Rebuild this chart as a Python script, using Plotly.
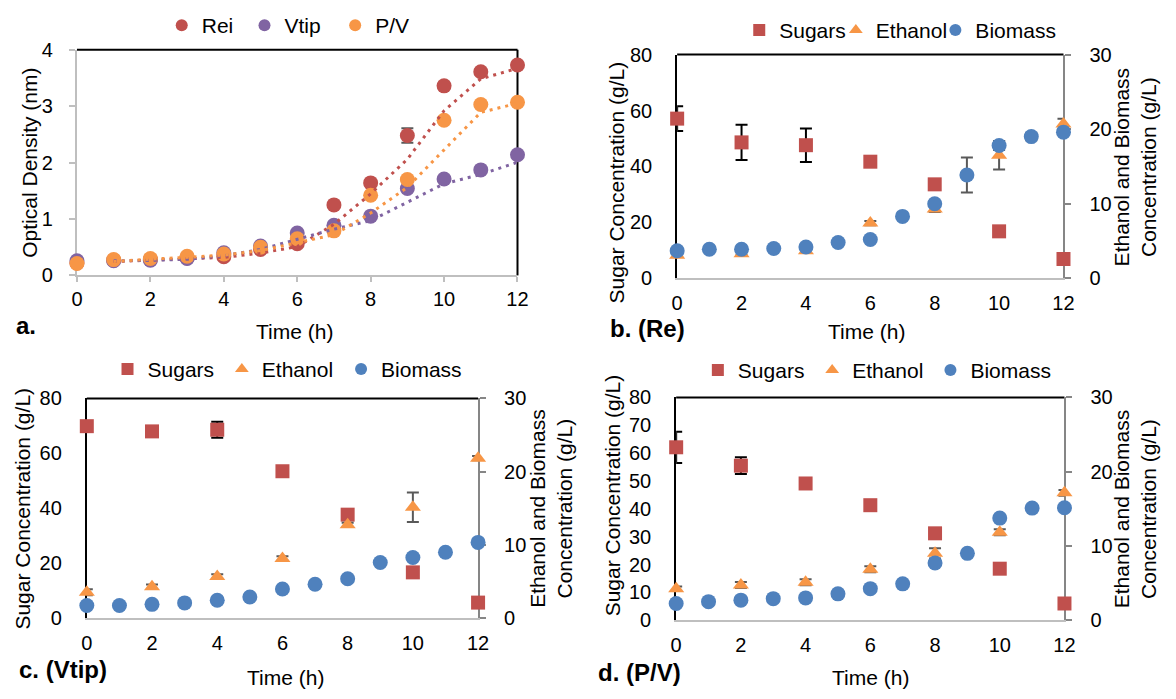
import plotly.graph_objects as go
import pandas as pd

# ---------------- data ----------------
hours = list(range(13))
hours_even = [0, 2, 4, 6, 8, 10, 12]
x_ticks = [0, 2, 4, 6, 8, 10, 12]

# panel a: optical density
od_rei = [0.22, 0.27, 0.28, 0.31, 0.33, 0.46, 0.56, 1.25, 1.64, 2.48, 3.36, 3.61, 3.73]
od_rei_err = [0.02, 0.02, 0.02, 0.02, 0.02, 0.02, 0.03, 0.04, 0.04, 0.13, 0.06, 0.05, 0.04]
od_vtip = [0.26, 0.26, 0.27, 0.30, 0.40, 0.52, 0.75, 0.89, 1.05, 1.54, 1.71, 1.87, 2.14]
od_vtip_err = [0.02, 0.02, 0.02, 0.02, 0.02, 0.02, 0.03, 0.03, 0.03, 0.05, 0.04, 0.04, 0.04]
od_pv = [0.21, 0.28, 0.30, 0.34, 0.38, 0.50, 0.65, 0.79, 1.42, 1.70, 2.75, 3.03, 3.07]
od_pv_err = [0.02, 0.02, 0.02, 0.02, 0.02, 0.02, 0.03, 0.03, 0.04, 0.04, 0.05, 0.04, 0.04]

# panel b: Re
b_sugars = [57.1, 48.6, 47.6, 41.7, 33.6, 16.8, 6.9]
b_sugars_err = [4.4, 6.3, 6.0, 0.8, 0.8, 0.6, 0.5]
b_ethanol = [3.1, 3.3, 3.7, 7.4, 9.3, 16.5, 20.7]
b_ethanol_err = [0.2, 0.2, 0.3, 0.3, 0.4, 1.9, 0.7]
b_biomass = [3.7, 3.9, 3.9, 4.0, 4.2, 4.8, 5.2, 8.3, 10.0, 13.85, 17.8, 19.0, 19.6]
b_biomass_err = [0.1, 0.1, 0.1, 0.1, 0.1, 0.1, 0.1, 0.2, 0.3, 2.35, 0.6, 0.5, 0.3]

# panel c: Vtip
c_sugars = [69.9, 68.0, 68.6, 53.5, 37.7, 16.7, 5.7]
c_sugars_err = [0.5, 0.5, 2.9, 0.5, 1.0, 0.5, 0.5]
c_ethanol = [3.55, 4.3, 5.7, 8.15, 12.75, 15.15, 21.85]
c_ethanol_err = [0.4, 0.3, 0.3, 0.3, 0.3, 2.0, 0.3]
c_biomass = [1.75, 1.75, 1.9, 2.1, 2.45, 2.9, 4.0, 4.65, 5.4, 7.6, 8.3, 9.0, 10.35]
c_biomass_err = [0.1] * 13

# panel d: P/V
d_sugars = [62.1, 55.5, 49.1, 41.3, 31.2, 18.5, 6.0]
d_sugars_err = [5.6, 3.0, 0.5, 0.5, 0.5, 0.5, 0.5]
d_ethanol = [4.25, 4.75, 5.1, 6.85, 9.0, 11.85, 17.15]
d_ethanol_err = [0.3, 0.4, 0.4, 0.4, 0.7, 0.4, 0.4]
d_biomass = [2.25, 2.5, 2.7, 2.9, 3.0, 3.55, 4.25, 4.9, 7.7, 9.0, 13.75, 15.1, 15.15]
d_biomass_err = [0.1] * 13

# ---------------- styling ----------------
W, H = 1176, 699
FONT = "Liberation Sans, Arial, Helvetica, sans-serif"
RED, PURPLE, ORANGE, BLUE = "#C0504D", "#8064A2", "#F79646", "#4F81BD"
LIGHT, DARK = "#BFBFBF", "#868686"
TICK_SIZE, TITLE_SIZE = 20, 21


def px(x):
    return x / W


def py(y):
    return 1 - y / H


fig = go.Figure()


def err(vals, color):
    return dict(type="data", array=vals, visible=True, color=color, thickness=2, width=6)


# ---- panel a ----
series_a = [("Rei", od_rei, od_rei_err, RED, "legend"),
            ("Vtip", od_vtip, od_vtip_err, PURPLE, "legend2"),
            ("P/V", od_pv, od_pv_err, ORANGE, "legend3")]
for name, vals, e, col, lg in series_a:
    fig.add_trace(go.Scatter(x=hours, y=vals, mode="markers", name=name, legend=lg,
                             marker=dict(color=col, size=15, symbol="circle"),
                             error_y=err(e, "#595959"), cliponaxis=False,
                             xaxis="x", yaxis="y"))
for name, vals, e, col, lg in series_a:
    trend = pd.Series(vals, index=hours).rolling(2).mean().dropna()
    fig.add_trace(go.Scatter(x=list(trend.index), y=list(trend.values), mode="lines",
                             showlegend=False, hoverinfo="skip",
                             line=dict(color=col, width=3, dash="3px,5px"),
                             xaxis="x", yaxis="y"))

# ---- panels b, c, d ----
panels = [
    ("x2", "y2", "y3", b_sugars, b_sugars_err, b_ethanol, b_ethanol_err, b_biomass, b_biomass_err, ["legend4", "legend5", "legend6"]),
    ("x3", "y4", "y5", c_sugars, c_sugars_err, c_ethanol, c_ethanol_err, c_biomass, c_biomass_err, ["legend7", "legend8", "legend9"]),
    ("x4", "y6", "y7", d_sugars, d_sugars_err, d_ethanol, d_ethanol_err, d_biomass, d_biomass_err, ["legend10", "legend11", "legend12"]),
]
for xa, yl, yr, sg, sge, et, ete, bm, bme, lgs in panels:
    fig.add_trace(go.Scatter(x=hours_even, y=sg, mode="markers", name="Sugars", legend=lgs[0],
                             marker=dict(color=RED, size=14, symbol="square"),
                             error_y=err(sge, "#000000"), cliponaxis=False, xaxis=xa, yaxis=yl))
    fig.add_trace(go.Scatter(x=hours_even, y=et, mode="markers", name="Ethanol", legend=lgs[1],
                             marker=dict(color=ORANGE, size=14, symbol="triangle-up"),
                             error_y=err(ete, "#595959"), cliponaxis=False, xaxis=xa, yaxis=yr))
    fig.add_trace(go.Scatter(x=hours, y=bm, mode="markers", name="Biomass", legend=lgs[2],
                             marker=dict(color=BLUE, size=15, symbol="circle"),
                             error_y=err(bme, "#595959"), cliponaxis=False, xaxis=xa, yaxis=yr))

# ---------------- axes ----------------
tickfont = dict(size=TICK_SIZE, color="black", family=FONT)


def xcfg(domain, anchor, ticks):
    return dict(domain=domain, anchor=anchor, range=[0, 12], tickvals=x_ticks,
                showgrid=False, zeroline=False, showline=True, linecolor=LIGHT, linewidth=2,
                ticks="outside" if ticks else "", ticklen=5, tickwidth=2, tickcolor=LIGHT,
                tickfont=tickfont, layer="below traces", ticklabelstandoff=0 if ticks else 6)


def yleft(domain, anchor, rng, dtick, gray):
    return dict(domain=domain, anchor=anchor, range=rng, dtick=dtick, showgrid=False,
                zeroline=False, showline=True, linecolor=LIGHT if gray else "black", linewidth=2,
                ticks="outside" if gray else "", ticklen=6, tickwidth=2, tickcolor=LIGHT,
                tickfont=tickfont, layer="below traces", ticklabelstandoff=12 if gray else 19)


def yright(over, anchor):
    return dict(overlaying=over, anchor=anchor, side="right", range=[0, 30], dtick=10,
                showgrid=False, zeroline=False, showline=True, linecolor=DARK, linewidth=2,
                ticks="outside", ticklen=6, tickwidth=2, tickcolor=DARK,
                tickfont=tickfont, layer="below traces", ticklabelstandoff=14)


dom_a = ([px(72), px(519)], [py(273), py(40)])
dom_b = ([px(681), px(1073)], [py(276), py(45)])
dom_c = ([px(82), px(479)], [py(627), py(400)])
dom_d = ([px(680), px(1074)], [py(629), py(399)])

layout = dict(
    width=W, height=H, margin=dict(l=0, r=0, t=0, b=0),
    paper_bgcolor="white", plot_bgcolor="rgba(0,0,0,0)",
    font=dict(family=FONT, color="black", size=TICK_SIZE),
    showlegend=True,
    xaxis=xcfg(dom_a[0], "y", True), yaxis=yleft(dom_a[1], "x", [0, 4], 1, True),
    xaxis2=xcfg(dom_b[0], "y2", False), yaxis2=yleft(dom_b[1], "x2", [0, 80], 20, False),
    yaxis3=yright("y2", "x2"),
    xaxis3=xcfg(dom_c[0], "y4", False), yaxis4=yleft(dom_c[1], "x3", [0, 80], 20, False),
    yaxis5=yright("y4", "x3"),
    xaxis4=xcfg(dom_d[0], "y6", False), yaxis6=yleft(dom_d[1], "x4", [0, 80], 10, False),
    yaxis7=yright("y6", "x4"),
)

# legends (one per entry, placed like the reference)
legend_pos = {
    "legend": (186, 15), "legend2": (270, 15), "legend3": (362, 15),
    "legend4": (772, 20), "legend5": (870, 20), "legend6": (971, 20),
    "legend7": (131, 370), "legend8": (247, 370), "legend9": (368, 370),
    "legend10": (730, 371), "legend11": (846, 371), "legend12": (966, 371),
}
for key, (mid, yc) in legend_pos.items():
    layout[key] = dict(x=px(mid - 28), y=py(yc), xanchor="left", yanchor="middle",
                       orientation="h", bgcolor="rgba(0,0,0,0)", borderwidth=0,
                       itemsizing="constant", font=dict(size=TITLE_SIZE, family=FONT, color="black"))

fig.update_layout(**layout)

# frame lines (black top / right in a; black top in b,c,d)
frames = [("x", "y", True), ("x2", "y2", False), ("x3", "y4", False), ("x4", "y6", False)]
for xa, ya, right in frames:
    fig.add_shape(type="line", xref=f"{xa} domain", yref=f"{ya} domain", x0=0, x1=1, y0=1, y1=1,
                  line=dict(color="black", width=2), layer="below")
    if right:
        fig.add_shape(type="line", xref=f"{xa} domain", yref=f"{ya} domain", x0=1, x1=1, y0=0, y1=1,
                      line=dict(color="black", width=2), layer="below")

# text annotations
def ann(text, x, y, size=TITLE_SIZE, angle=0, bold=False, xanchor="center"):
    fig.add_annotation(text=f"<b>{text}</b>" if bold else text, x=px(x), y=py(y),
                       xref="paper", yref="paper", showarrow=False, textangle=angle,
                       xanchor=xanchor, yanchor="middle",
                       font=dict(size=size, family=FONT, color="black"))

ann("Time (h)", 293, 331)
ann("Time (h)", 873, 331)
ann("Time (h)", 284, 688)
ann("Time (h)", 877, 688)
ann("a.", 8, 325, size=24, bold=True, xanchor="left")
ann("b. (Re)", 611, 328, size=24, bold=True, xanchor="left")
ann("c. (Vtip)", 11, 680, size=24, bold=True, xanchor="left")
ann("d. (P/V)", 599, 683, size=24, bold=True, xanchor="left")
ann("Optical Density (nm)", 23, 157, angle=-90)
ann("Sugar Concentration (g/L)", 619, 177, angle=-90)
ann("Sugar Concentration (g/L)", 17, 514, angle=-90)
ann("Sugar Concentration (g/L)", 615, 500, angle=-90)
ann("Ethanol and Biomass<br>Concentration (g/L)", 1145, 161, angle=-90)
ann("Ethanol and Biomass<br>Concentration (g/L)", 553, 514, angle=-90)
ann("Ethanol and Biomass<br>Concentration (g/L)", 1145, 514, angle=-90)

fig.write_html("out.html", config={"displayModeBar": False},
               post_script="document.body.style.margin='0';document.body.style.overflow='hidden';")
